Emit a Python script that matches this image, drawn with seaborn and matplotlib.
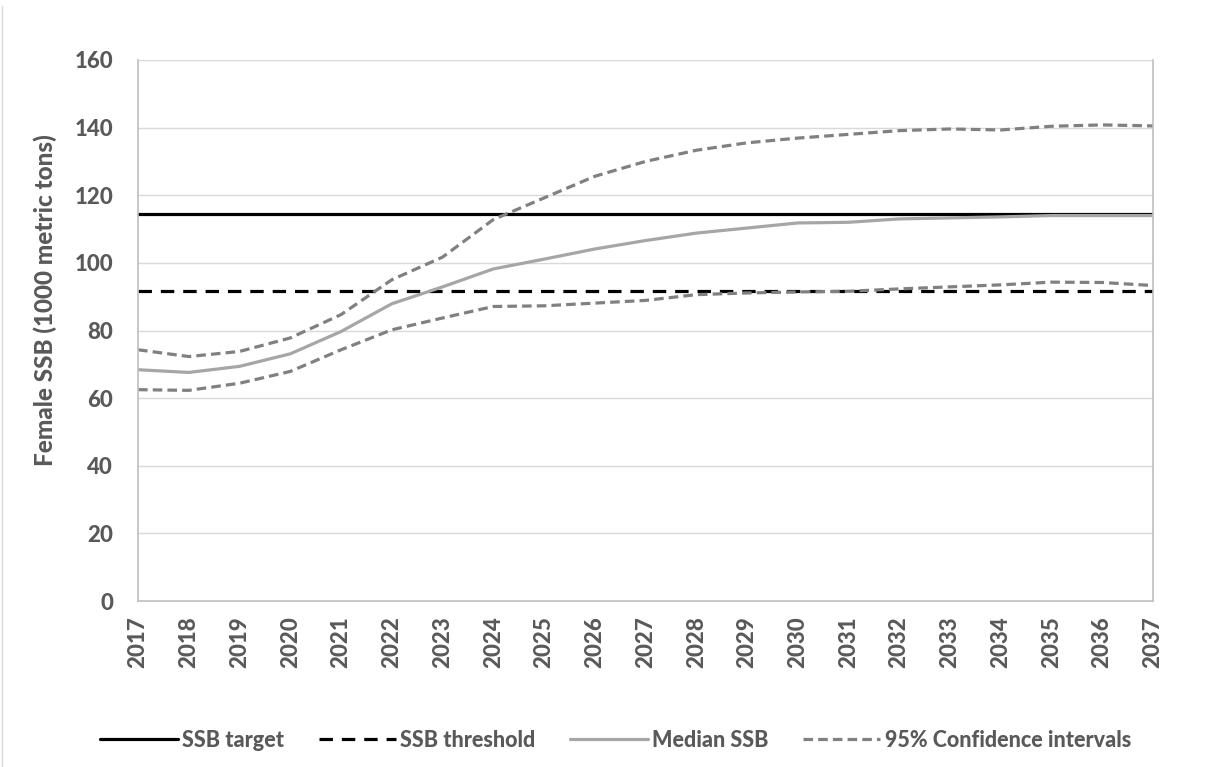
import numpy as np
import pandas as pd
import matplotlib.pyplot as plt
import seaborn as sns
from matplotlib.lines import Line2D

sns.set_style("white")
plt.rcParams['font.family'] = ['Lato', 'DejaVu Sans']

# Projection values (1000 metric tons)
years = list(range(2017, 2038))
median_ssb = [68.4, 67.6, 69.4, 73.1, 79.7, 87.9, 92.9, 98.2, 101.1, 104.1, 106.6,
              108.8, 110.3, 111.8, 112.0, 113.0, 113.3, 113.6, 114.0, 114.0, 114.0]
upper_ci = [74.3, 72.3, 73.8, 77.8, 84.7, 95.0, 101.7, 112.8, 119.2, 125.6, 130.0,
            133.3, 135.5, 136.9, 138.0, 139.1, 139.6, 139.3, 140.4, 140.8, 140.5]
lower_ci = [62.5, 62.3, 64.4, 67.9, 74.3, 80.2, 83.7, 87.1, 87.3, 88.1, 88.9,
            90.6, 91.1, 91.4, 91.6, 92.3, 92.9, 93.5, 94.3, 94.2, 93.3]
ssb_target = 114.4
ssb_threshold = 91.6

df = pd.DataFrame({"Year": years, "Median": median_ssb, "Upper": upper_ci, "Lower": lower_ci})
df["Target"] = ssb_target
df["Threshold"] = ssb_threshold

text_col = "#595959"
weight = "black"

fig = plt.figure(figsize=(12.12, 7.67), dpi=100)
ax = fig.add_axes([0.1139, 0.2164, 0.8374, 0.7054])

sns.lineplot(data=df, x="Year", y="Target", ax=ax, color="black", linewidth=2.3, label="SSB target")
sns.lineplot(data=df, x="Year", y="Threshold", ax=ax, color="black", linewidth=2.3,
             label="SSB threshold")
ax.lines[-1].set_dashes([4.2, 2.8])
sns.lineplot(data=df, x="Year", y="Median", ax=ax, color="#A6A6A6", linewidth=2.3, label="Median SSB")
sns.lineplot(data=df, x="Year", y="Upper", ax=ax, color="#808080", linewidth=2.3,
             label="95% Confidence intervals")
ax.lines[-1].set_dashes([3.0, 1.6])
sns.lineplot(data=df, x="Year", y="Lower", ax=ax, color="#808080", linewidth=2.3)
ax.lines[-1].set_dashes([3.0, 1.6])

handles, labels = ax.get_legend_handles_labels()
ax.get_legend().remove()

ax.set_xlim(2017, 2037)
ax.set_ylim(0, 160)
ax.set_xticks(years)
ax.set_yticks(np.arange(0, 161, 20))
ax.grid(axis="y", color="#D9D9D9", linewidth=1)
ax.set_axisbelow(True)
for s in ["left", "right", "bottom"]:
    ax.spines[s].set_color("#BFBFBF")
    ax.spines[s].set_linewidth(1.2)
ax.spines["top"].set_visible(False)
ax.tick_params(axis="both", length=0, labelsize=16, labelcolor=text_col)
ax.tick_params(axis="y", pad=18)
ax.tick_params(axis="x", rotation=90, pad=11)
for lab in ax.get_xticklabels() + ax.get_yticklabels():
    lab.set_fontweight(weight)
ax.set_xlabel("")
ax.set_ylabel("Female SSB (1000 metric tons)", fontsize=17.5, fontweight=weight,
              color=text_col)
ax.yaxis.set_label_coords(-0.08, 0.556)

leg = fig.legend(handles, labels, loc="center", bbox_to_anchor=(0.508, 0.035), ncol=4,
                 frameon=False, fontsize=15.5, handlelength=3.6, handletextpad=0.2,
                 columnspacing=1.6)
for t in leg.get_texts():
    t.set_color(text_col)
    t.set_fontweight(weight)

# outer chart border fragment on the left edge
fig.add_artist(Line2D([0.002, 0.002], [0.0, 0.992], color="#D9D9D9", linewidth=1,
                      transform=fig.transFigure))

plt.savefig("out.png", dpi=100)
plt.close()
